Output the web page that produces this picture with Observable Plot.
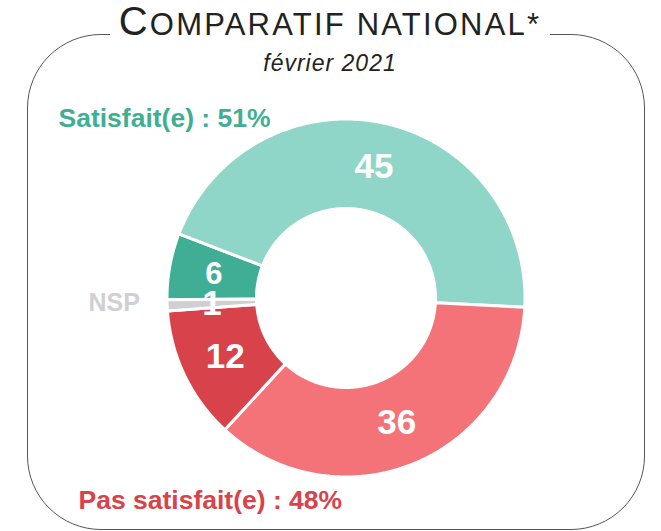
<!DOCTYPE html>
<html>
<head>
<meta charset="utf-8">
<script src="https://cdn.jsdelivr.net/npm/d3@7"></script>
<script src="https://cdn.jsdelivr.net/npm/@observablehq/plot@0.6"></script>
<style>
  body { margin: 0; background: #fff; font-family: "Liberation Sans", Arial, sans-serif; }
  #wrap { position: relative; width: 661px; height: 531px; overflow: hidden; }
  #chart { position: absolute; left: 0; top: 0; }
  #frame { position: absolute; left: 27px; top: 34px; width: 616px; height: 494px;
           border: 1.5px solid #555; border-radius: 74px; pointer-events: none; }
  #title { position: absolute; left: 110px; top: 1px; width: 440px; height: 44px; background: #fff;
           text-align: center; font-size: 31px; line-height: 40px; color: #222; letter-spacing: 2.2px; white-space: nowrap; }
  #title .big { font-size: 40px; }
  #sub { position: absolute; left: 230px; top: 51.5px; width: 200px; text-align: center;
         font-size: 23px; line-height: 23px; font-style: italic; color: #222; letter-spacing: 1px; white-space: nowrap; }
</style>
</head>
<body>
<div id="wrap">
  <div id="chart"></div>
  <div id="frame"></div>
  <div id="title"><span class="big">C</span>OMPARATIF NATIONAL*</div>
  <div id="sub">février 2021</div>
</div>
<script>
// ---- data ----
const categories = ["Très satisfait", "Plutôt satisfait", "Plutôt pas satisfait", "Pas du tout satisfait", "NSP"];
const values = [6, 45, 36, 12, 1];
const colors = ["#40ae94", "#8fd6c8", "#f37378", "#d8434b", "#d0d0d2"];
const groupNames = ["Satisfait(e)", "Pas satisfait(e)", "NSP"];

// ---- geometry helpers ----
const rows = categories.map((c, i) => ({cat: c, value: values[i]}));
const start = 269.4 * Math.PI / 180;
const pie = d3.pie().sort(null).value(d => d.value).startAngle(start).endAngle(start + 2 * Math.PI);
const arcs = pie(rows);
const rOuter = 1, rInner = 0.5;
const pts = [];
for (const a of arcs) {
  const n = Math.max(2, Math.ceil((a.endAngle - a.startAngle) / (Math.PI / 360)));
  const ring = [];
  for (let i = 0; i <= n; i++) {
    const t = a.startAngle + (a.endAngle - a.startAngle) * i / n;
    ring.push({cat: a.data.cat, x: rOuter * Math.sin(t), y: rOuter * Math.cos(t)});
  }
  for (let i = n; i >= 0; i--) {
    const t = a.startAngle + (a.endAngle - a.startAngle) * i / n;
    ring.push({cat: a.data.cat, x: rInner * Math.sin(t), y: rInner * Math.cos(t)});
  }
  ring.push(ring[0]);
  pts.push(...ring);
}
const rMid = (rOuter + rInner) / 2;
const labels = arcs.map(a => {
  const t = (a.startAngle + a.endAngle) / 2;
  return {cat: a.data.cat, value: a.data.value, x: rMid * Math.sin(t), y: rMid * Math.cos(t)};
});
const satisfied = values[0] + values[1];
const unsatisfied = values[2] + values[3];

const plot = Plot.plot({
  width: 661,
  height: 531,
  margin: 0,
  style: {background: "transparent", fontFamily: "'Liberation Sans', Arial, sans-serif"},
  x: {domain: [-1, 1], range: [166.5, 524.5], axis: null},
  y: {domain: [-1, 1], range: [476.5, 118.5], axis: null},
  color: {domain: categories, range: colors},
  marks: [
    Plot.line(pts, {x: "x", y: "y", z: "cat", fill: "cat", stroke: "white", strokeWidth: 3, curve: "linear"}),
    Plot.text(labels.filter(d => d.value >= 10 || d.cat === "NSP"), {
      x: "x", y: "y", text: d => String(d.value), fill: "white",
      fontSize: 35, fontWeight: "bold", textAnchor: "middle", lineAnchor: "middle"
    }),
    Plot.text(labels.filter(d => d.value < 10 && d.cat !== "NSP"), {
      x: "x", y: "y", text: d => String(d.value), fill: "white",
      fontSize: 31, fontWeight: "bold", textAnchor: "middle", lineAnchor: "middle"
    }),
    Plot.text([`${groupNames[0]} : ${satisfied}%`], {
      frameAnchor: "top-left", dx: 58, dy: 126, text: d => d, textAnchor: "start", lineAnchor: "bottom",
      fill: "#40ae94", fontSize: 26.5, fontWeight: "bold"
    }),
    Plot.text([`${groupNames[1]} : ${unsatisfied}%`], {
      frameAnchor: "top-left", dx: 78, dy: 508, text: d => d, textAnchor: "start", lineAnchor: "bottom",
      fill: "#d8434b", fontSize: 26.5, fontWeight: "bold"
    }),
    Plot.text([groupNames[2]], {
      frameAnchor: "top-left", dx: 88, dy: 310, text: d => d, textAnchor: "start", lineAnchor: "bottom",
      fill: "#d0d0d2", fontSize: 25, fontWeight: "bold"
    })
  ]
});
document.getElementById("chart").appendChild(plot);
</script>
</body>
</html>
